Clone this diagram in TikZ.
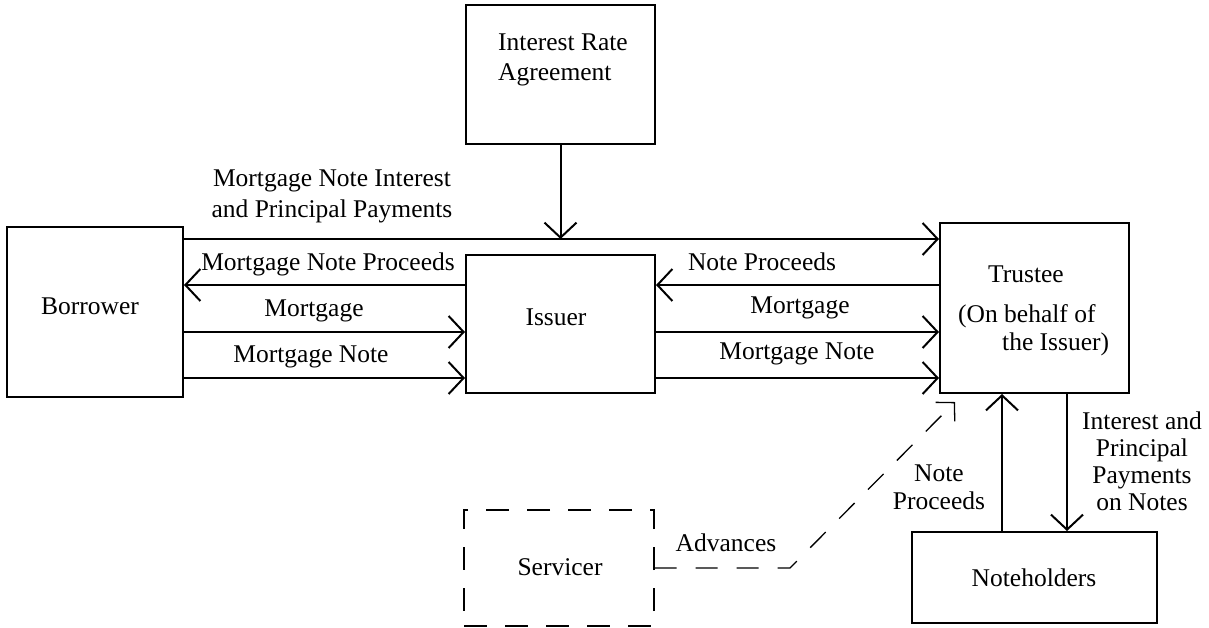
\documentclass[tikz,border=0pt]{standalone}
\usepackage{fontspec}
\setmainfont{Liberation Serif}
\usetikzlibrary{arrows.meta,calc}
\begin{document}
\begin{tikzpicture}[x=1pt,y=-1pt,
  every node/.style={font=\fontsize{25.5}{31}\selectfont, inner sep=0pt},
  box/.style={draw, line width=2pt},
  dbox/.style={draw, line width=1.3pt, dash pattern=on 23pt off 18pt},
  arr/.style={line width=2pt, -{Straight Barb[length=15pt,width=32pt]}},
  darr/.style={line width=1.3pt, dash pattern=on 22pt off 19pt, -{Straight Barb[length=13pt,width=27pt]}},
  lbl/.style={align=center}
]
\useasboundingbox (0,0) rectangle (1209,627);

% boxes
\node[box, minimum width=176pt, minimum height=170pt] (borrower) at (95,312) {};
\node (borrowerText) at (90,306) {Borrower};
\node[box, minimum width=189pt, minimum height=139pt] (ira) at (560.5,74.5) {};
\node[align=left, anchor=west] (iraText) at (498,60) {Interest Rate\\[-1pt]Agreement};
\node[box, minimum width=189pt, minimum height=138pt] (issuer) at (560.5,324) {};
\node (issuerText) at (556,317) {Issuer};
\node[box, minimum width=189pt, minimum height=170pt] (trustee) at (1034.5,308) {};
\node[align=left, anchor=west] (trusteeText) at (958,311)
  {\hspace*{30pt}Trustee\\[9pt](On behalf of\\[-3pt]\hspace*{44pt}the Issuer)};
\node[box, minimum width=245pt, minimum height=91pt] (noteholders) at (1034.5,577.5) {};
\node (noteholdersText) at (1034,578) {Noteholders};
\node[dbox, minimum width=190pt, minimum height=116pt] (servicer) at (559,568) {};
\node (servicerText) at (560,567) {Servicer};

% level coordinates
\coordinate (y0) at (0,239);
\coordinate (y1) at (0,285);
\coordinate (y2) at (0,332);
\coordinate (y3) at (0,378);
\coordinate (xup) at (1002,0);
\coordinate (xdn) at (1067,0);
\coordinate (join) at (ira.south |- y0);
\coordinate (bend) at (790,568);
\coordinate (advtip) at (955,402);

% connectors
\draw[arr] (ira.south) -- (join);
\draw[arr] (borrower.east |- y0) -- (trustee.west |- y0);
\draw[arr] (issuer.west |- y1) -- (borrower.east |- y1);
\draw[arr] (borrower.east |- y2) -- (issuer.west |- y2);
\draw[arr] (borrower.east |- y3) -- (issuer.west |- y3);
\draw[arr] (trustee.west |- y1) -- (issuer.east |- y1);
\draw[arr] (issuer.east |- y2) -- (trustee.west |- y2);
\draw[arr] (issuer.east |- y3) -- (trustee.west |- y3);
\draw[arr] (xup |- noteholders.north) -- (xup |- trustee.south);
\draw[arr] (xdn |- trustee.south) -- (xdn |- noteholders.north);
\draw[darr] (servicer.east) -- (bend) -- (advtip);

% labels
\node[lbl] (lMNIP) at (332,196) {Mortgage Note Interest\\and Principal Payments};
\node (lMNP) at (328,264) {Mortgage Note Proceeds};
\node (lM1) at (314,311) {Mortgage};
\node (lMN1) at (311,357) {Mortgage Note};
\node (lNP) at (762,262) {Note Proceeds};
\node (lM2) at (800,308) {Mortgage};
\node (lMN2) at (797,354) {Mortgage Note};
\node[lbl, font=\fontsize{25.5}{28}\selectfont] (lNP2) at (939,487) {Note\\Proceeds};
\node[lbl, font=\fontsize{25.5}{27}\selectfont] (lIPP) at (1142,461) {Interest and\\Principal\\Payments\\on Notes};
\node (lAdv) at (726,543) {Advances};
\end{tikzpicture}
\end{document}
